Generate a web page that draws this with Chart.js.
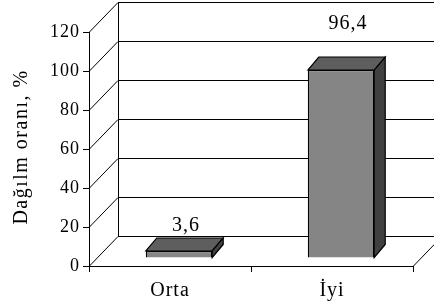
<!DOCTYPE html>
<html>
<head>
<meta charset="utf-8">
<script src="https://cdn.jsdelivr.net/npm/chart.js@4/dist/chart.umd.min.js"></script>
<style>
  html, body { margin: 0; padding: 0; background: #fff; }
  #wrap { width: 434px; height: 308px; }
</style>
</head>
<body>
<div id="wrap"><canvas id="chart"></canvas></div>
<script>
// datos
const categories = ["Orta", "İyi"];
const values = [3.6, 96.4];
const yTicks = [0, 20, 40, 60, 80, 100, 120];
const yTitle = "Dağılm oranı, %";

const FONT = "'Liberation Serif', 'Times New Roman', serif";
// profundidad de la caja 3D
const DX = 29, DY = 30;
// desplazamiento de las barras hacia el fondo y su propia profundidad
const SX = 9, SY = -8;
const BX = 11, BY = 13;

const box3d = {
  id: "box3d",
  beforeDraw(chart) {
    chart.ctx.letterSpacing = "1px";
  },
  beforeDatasetsDraw(chart) {
    const { ctx, chartArea: a, scales: { y } } = chart;
    ctx.save();
    ctx.strokeStyle = "#000";
    ctx.lineWidth = 1;
    ctx.beginPath();
    yTicks.forEach(v => {
      const py = Math.round(y.getPixelForValue(v)) + 0.5;
      ctx.moveTo(a.left, py);
      ctx.lineTo(a.left + DX, py - DY);
      ctx.lineTo(a.right + DX, py - DY);
    });
    ctx.moveTo(a.left + DX + 0.5, a.top - DY);
    ctx.lineTo(a.left + DX + 0.5, a.bottom - DY);
    ctx.moveTo(a.right, a.bottom + 0.5);
    ctx.lineTo(a.right + DX, a.bottom - DY + 0.5);
    ctx.stroke();

    // caras superior y lateral de las barras
    ctx.translate(SX, SY);
    ctx.lineWidth = 1.2;
    chart.getDatasetMeta(0).data.forEach(bar => {
      const { x, y: top, base, width } = bar.getProps(["x", "y", "base", "width"], true);
      const l = x - width / 2, r = x + width / 2;
      ctx.beginPath();
      ctx.moveTo(l, top);
      ctx.lineTo(l + BX, top - BY);
      ctx.lineTo(r + BX, top - BY);
      ctx.lineTo(r, top);
      ctx.closePath();
      ctx.fillStyle = "#5e5e5e";
      ctx.fill();
      ctx.stroke();
      ctx.beginPath();
      ctx.moveTo(r, top);
      ctx.lineTo(r + BX, top - BY);
      ctx.lineTo(r + BX, base - BY);
      ctx.lineTo(r, base);
      ctx.closePath();
      ctx.fillStyle = "#404040";
      ctx.fill();
      ctx.stroke();
    });
  },
  afterDatasetsDraw(chart) {
    const { ctx } = chart;
    ctx.restore();
    ctx.save();
    ctx.fillStyle = "#000";
    ctx.font = "20px " + FONT;
    ctx.letterSpacing = "1px";
    ctx.textAlign = "center";
    ctx.textBaseline = "middle";
    chart.getDatasetMeta(0).data.forEach((bar, i) => {
      const { x, y: top, base } = bar.getProps(["x", "y", "base"], true);
      const off = 24 + 0.12 * (base - top);
      ctx.fillText(String(values[i]).replace(".", ","), x + SX + 7, top + SY - off);
    });
    ctx.restore();
  },
  afterDraw(chart) {
    // título del eje y, con espaciado entre letras
    const { ctx, chartArea: a } = chart;
    ctx.save();
    ctx.translate(22, (a.top + a.bottom) / 2 - 2);
    ctx.rotate(-Math.PI / 2);
    ctx.fillStyle = "#000";
    ctx.font = "20px " + FONT;
    ctx.letterSpacing = "1.5px";
    ctx.textAlign = "center";
    ctx.textBaseline = "middle";
    ctx.fillText(yTitle, 0, 0);
    ctx.restore();
  }
};

new Chart(document.getElementById("chart"), {
  type: "bar",
  data: {
    labels: categories,
    datasets: [{
      data: values,
      backgroundColor: "#858585",
      borderColor: "#000",
      borderWidth: 1.2,
      barPercentage: 0.41,
      categoryPercentage: 1
    }]
  },
  options: {
    responsive: true,
    maintainAspectRatio: false,
    animation: false,
    layout: { padding: { top: 32, right: 21, left: 0, bottom: 0 } },
    plugins: { legend: { display: false }, tooltip: { enabled: false } },
    scales: {
      x: {
        afterFit: s => { s.height = 42; },
        grid: { offset: true, drawOnChartArea: false, tickLength: 6, color: "#000" },
        border: { color: "#000" },
        ticks: { color: "#000", padding: 7, font: { family: FONT, size: 20 } }
      },
      y: {
        min: 0,
        max: 120,
        afterFit: s => { s.width = 89; },
        afterBuildTicks: s => { s.ticks = yTicks.map(v => ({ value: v })); },
        grid: { drawOnChartArea: false, tickLength: 6, color: "#000" },
        border: { color: "#000" },
        ticks: { color: "#000", padding: 3, font: { family: FONT, size: 18 } }
      }
    }
  },
  plugins: [box3d]
});
</script>
</body>
</html>
